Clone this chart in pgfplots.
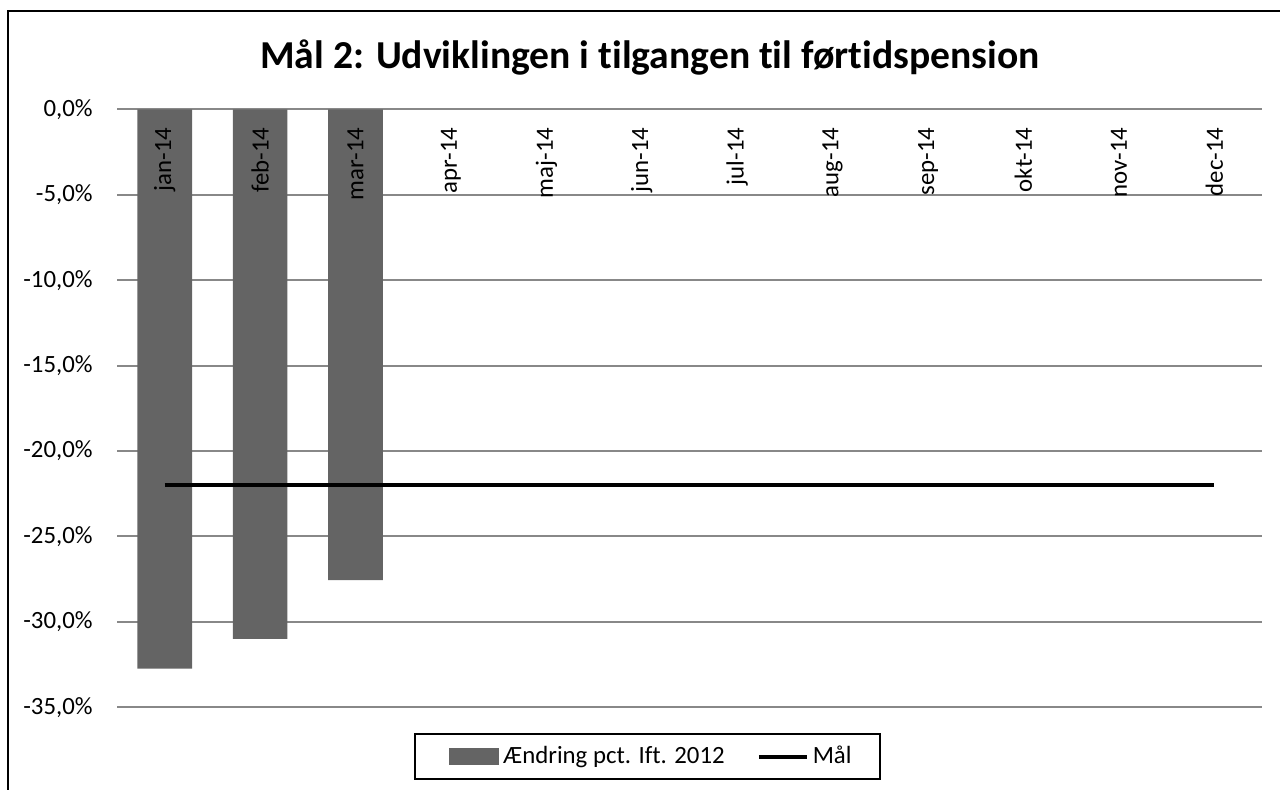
\documentclass[border=0pt]{standalone}
\usepackage{pgfplots}
\pgfplotsset{compat=1.18}
\usepackage{fontspec}
\setmainfont{Carlito}[Ligatures=NoCommon]
\definecolor{barcol}{RGB}{100,100,100}
\definecolor{gridcol}{RGB}{136,136,136}
\pgfplotsset{myaxis/.style={
  at={(58.5pt,41.35pt)}, anchor=south west,
  scale only axis, width=572.5pt, height=299pt,
  xmin=-0.5, xmax=11.5, ymin=-35, ymax=0,
  axis line style={draw=none},
  major tick length=0pt,
  clip=false}}
\begin{document}
\begin{tikzpicture}
\useasboundingbox (0,0) rectangle (640pt,395pt);
\draw[line width=1pt] (4pt,-20pt) rectangle (700pt,389.5pt);
\node[anchor=base, font=\fontsize{19.8}{22}\selectfont\bfseries] at (325pt,360.5pt) {Mål 2: Udviklingen i tilgangen til førtidspension};
\begin{axis}[
  myaxis,
  ymajorgrids, grid style={gridcol, line width=1pt},
  ytick={-35,-30,-25,-20,-15,-10,-5,0},
  yticklabels={{-35,0\%},{-30,0\%},{-25,0\%},{-20,0\%},{-15,0\%},{-10,0\%},{-5,0\%},{0,0\%}},
  yticklabel style={font=\fontsize{12.4}{14}\selectfont, anchor=east, inner xsep=0pt, xshift=-12pt},
  xtick=\empty,
  legend columns=2,
  legend style={at={(rel axis cs:0.4633,-0.0823)}, anchor=center, draw=black, line width=1pt,
    font=\fontsize{12.4}{14}\selectfont, inner xsep=12pt, inner ysep=4.25pt,
    /tikz/every even column/.append style={column sep=14pt}},
]
\addplot[ybar, bar width=27.35pt, fill=barcol, draw=none,
  legend image code/.code={\path (-5pt,0pt); \fill[barcol,draw=none] (0pt,-4.25pt) rectangle (25pt,4.25pt);}]
  coordinates {(0,-32.74) (1,-31.0) (2,-27.55)};
\addlegendentry{Ændring pct. Ift. 2012}
\addplot[black, line width=2pt, mark=none,
  legend image code/.code={\draw[black,line width=2pt] (0pt,0pt) -- (24pt,0pt);}]
  coordinates {(0,-22) (1,-22) (2,-22) (3,-22) (4,-22) (5,-22) (6,-22) (7,-22) (8,-22) (9,-22) (10,-22) (11,-22)};
\addlegendentry{Mål}
\end{axis}
\begin{axis}[
  myaxis,
  ytick=\empty,
  xtick={0,...,11},
  xticklabels={jan-14,feb-14,mar-14,apr-14,maj-14,jun-14,jul-14,aug-14,sep-14,okt-14,nov-14,dec-14},
  xticklabel pos=upper,
  xticklabel style={font=\fontsize{12.4}{14}\selectfont, rotate=90, anchor=east, inner xsep=9pt},
]
\end{axis}
\end{tikzpicture}
\end{document}
